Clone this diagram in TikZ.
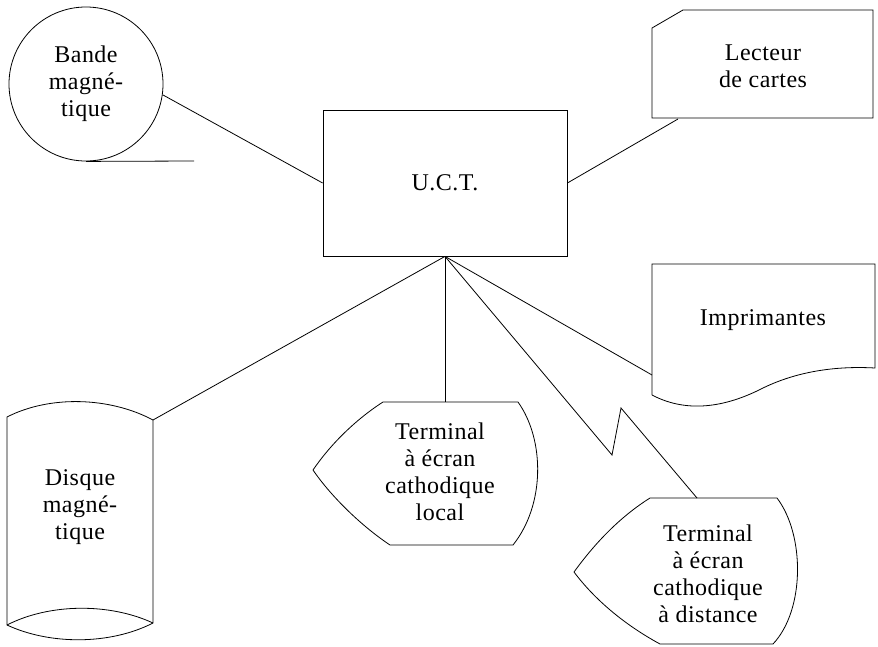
\documentclass[tikz,border=0pt]{standalone}
\usepackage{fontspec}
\setmainfont{Liberation Serif}[LetterSpace=2]
\begin{document}
\begin{tikzpicture}[x=1pt,y=-1pt,line width=.8pt,
        lbl/.style={align=center,font=\fontsize{24}{27}\selectfont}]
                \useasboundingbox(0,0)rectangle(878,646);
                \node[lbl,draw,circle,minimum size=154pt,inner sep=0pt](bande)at(86,84){Bande\\magné-\\tique};
                \node[lbl,draw,minimum width=244pt,minimum height=146pt](uct)at(445,183){U.C.T.};
                \draw(652,28)--(683,10)--(873,10)--(873,118)--(652,118)--cycle;
                \node[lbl](lecteur)at(763,66){Lecteur\\de cartes};
                \draw(652,395)--(652,264)--(875,264)--(875,368)
                    .. controls (840,366) and (800,370) .. (763,388)
                    .. controls (730,405) and (690,415) .. (652,395);
                \node[lbl](imp)at(763,320){Imprimantes};
                \draw(7,417) .. controls (50,395) and (110,397) .. (153,420)--(153,623)
                    .. controls (110,645) and (50,645) .. (7,625)--cycle;
                \draw(7,625) .. controls (50,603) and (110,603) .. (153,623);
                \node[lbl](disque)at(80,507){Disque\\magné-\\tique};
                \draw(383,402)--(518,402) .. controls (545,440) and (545,505) .. (513,545)--(390,545)
                    .. controls (360,525) and (330,495) .. (313,470)
                    .. controls (330,445) and (355,420) .. (383,402);
                \node[lbl](local)at(440,472){Terminal\\à écran\\cathodique\\local};
                \draw(650,498)--(777,498) .. controls (805,535) and (805,610) .. (773,644)--(660,644)
                    .. controls (625,625) and (595,600) .. (574,572)
                    .. controls (590,550) and (615,520) .. (650,498);
                \node[lbl](distance)at(708,574){Terminal\\à écran\\cathodique\\à distance};
                \coordinate(tail)at(194,161);
                \coordinate(lecteur-in)at(678,119);
                \coordinate(imp-in)at(652,375);
                \coordinate(disque-in)at(153,420);
                \coordinate(local-in)at(445,402);
                \coordinate(zz1)at(612,455);
                \coordinate(zz2)at(621,408);
                \coordinate(distance-in)at(697,498);
                \draw(bande.south)--(tail);
                \draw(bande.-8)--(uct.west);
                \draw(uct.east)--(lecteur-in);
                \draw(uct.south)--(imp-in);
                \draw(uct.south)--(disque-in);
                \draw(uct.south)--(local-in);
                \draw(uct.south)--(zz1)--(zz2)--(distance-in);
            \end{tikzpicture}
\end{document}
